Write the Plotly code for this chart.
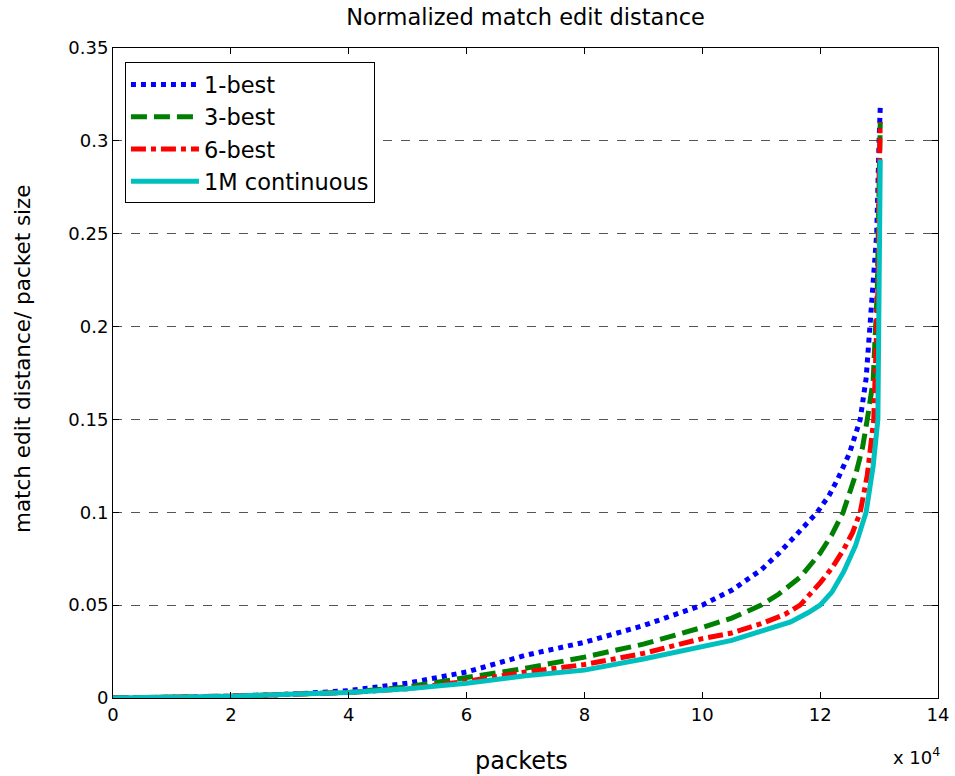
import plotly.graph_objects as go

# Sorted per-packet match edit distance, normalised by packet size.
# Packet index is in units of 10^4 packets.
best1_x = [0, 1.0, 1.7, 2, 3, 4, 5, 6, 7, 8, 9, 10, 10.5, 11, 11.3, 11.6, 11.95, 12.15, 12.3, 12.5, 12.68, 12.78, 12.85, 12.92, 12.96, 13.0, 13.02]
best1_y = [0, 0, 0.0005, 0.001, 0.002, 0.004, 0.008, 0.014, 0.023, 0.030, 0.039, 0.050, 0.058, 0.069, 0.078, 0.088, 0.100, 0.109, 0.118, 0.132, 0.150, 0.172, 0.200, 0.230, 0.250, 0.300, 0.318]

best3_x = [0, 1.7, 2, 3, 4, 5, 6, 7, 8, 9, 10, 10.5, 11, 11.3, 11.66, 12, 12.2, 12.39, 12.6, 12.72, 12.8, 12.9, 12.97, 13.0, 13.02]
best3_y = [0, 0.0005, 0.001, 0.002, 0.003, 0.006, 0.011, 0.016, 0.022, 0.029, 0.038, 0.043, 0.050, 0.056, 0.065, 0.078, 0.088, 0.100, 0.120, 0.135, 0.150, 0.171, 0.220, 0.280, 0.310]

best6_x = [0, 1.7, 2, 3, 4, 5, 6, 7, 8, 9, 10, 10.5, 11, 11.4, 11.66, 12, 12.2, 12.4, 12.55, 12.68, 12.8, 12.91, 12.98, 13.0, 13.02]
best6_y = [0, 0.0005, 0.001, 0.002, 0.003, 0.005, 0.009, 0.014, 0.018, 0.024, 0.032, 0.035, 0.040, 0.045, 0.050, 0.062, 0.070, 0.080, 0.089, 0.100, 0.120, 0.150, 0.220, 0.280, 0.310]

cont_x = [0, 1.7, 2, 3, 4, 5, 6, 7, 8, 9, 10, 10.5, 11, 11.5, 11.8, 12, 12.2, 12.4, 12.6, 12.78, 12.9, 12.98, 13.0, 13.02]
cont_y = [0, 0.0005, 0.001, 0.002, 0.003, 0.005, 0.008, 0.012, 0.015, 0.021, 0.028, 0.031, 0.036, 0.041, 0.046, 0.050, 0.057, 0.068, 0.082, 0.100, 0.125, 0.150, 0.220, 0.290]

x_ticks = [0, 2, 4, 6, 8, 10, 12, 14]
y_ticks = [0, 0.05, 0.1, 0.15, 0.2, 0.25, 0.3, 0.35]
y_tick_text = ["0", "0.05", "0.1", "0.15", "0.2", "0.25", "0.3", "0.35"]

FONT = "DejaVu Sans, Liberation Sans, Arial, sans-serif"

fig = go.Figure()
fig.add_trace(go.Scatter(x=best1_x, y=best1_y, mode="lines", name="1-best",
                         line=dict(color="#0000ff", width=5, dash="5px,5px")))
fig.add_trace(go.Scatter(x=best3_x, y=best3_y, mode="lines", name="3-best",
                         line=dict(color="#008000", width=5, dash="16px,7px")))
fig.add_trace(go.Scatter(x=best6_x, y=best6_y, mode="lines", name="6-best",
                         line=dict(color="#ff0000", width=5, dash="15px,5px,5px,5px")))
fig.add_trace(go.Scatter(x=cont_x, y=cont_y, mode="lines", name="1M continuous",
                         line=dict(color="#00bfbf", width=5)))

axis_common = dict(
    showline=True, linecolor="black", linewidth=1, mirror="ticks",
    ticks="inside", ticklen=6, tickcolor="black",
    tickfont=dict(family=FONT, size=18, color="black"),
    zeroline=False, automargin=False,
)

fig.update_xaxes(range=[0, 14], tickvals=x_ticks, ticktext=[str(v) for v in x_ticks],
                 showgrid=False, **axis_common)
fig.update_yaxes(range=[0, 0.35], tickvals=y_ticks, ticktext=y_tick_text,
                 showgrid=True, gridcolor="#555555", gridwidth=1, griddash="dash",
                 **axis_common)

# axis labels
fig.add_annotation(text="packets", xref="paper", yref="paper", x=0.5, y=0,
                   xanchor="center", yanchor="middle", yshift=-63, xshift=-4, showarrow=False,
                   font=dict(family=FONT, size=24, color="black"))
fig.add_annotation(text="match edit distance/ packet size", textangle=-90,
                   xref="paper", yref="paper", x=-0.1103, y=0.5215,
                   xanchor="center", yanchor="middle", showarrow=False,
                   font=dict(family=FONT, size=21.5, color="black"))

# x-axis scale factor
fig.add_annotation(text="x 10<sup>4</sup>", xref="paper", yref="paper", x=1.0, y=0,
                   xanchor="right", yanchor="top", yshift=-44, xshift=4, showarrow=False,
                   font=dict(family=FONT, size=18, color="black"))

fig.update_layout(
    width=955, height=776,
    margin=dict(l=113, r=17, t=48, b=78),
    paper_bgcolor="white", plot_bgcolor="white",
    title=dict(text="Normalized match edit distance", xref="paper", x=0.5, xanchor="center",
               yref="container", y=0.988, yanchor="top",
               font=dict(family=FONT, size=22.5, color="black")),
    legend=dict(x=0.0145, y=0.978, xanchor="left", yanchor="top",
                bordercolor="black", borderwidth=1, bgcolor="white",
                font=dict(family=FONT, size=22.5, color="black"),
                itemwidth=68, tracegroupgap=0),
    showlegend=True,
)

fig.write_html("out.html")
